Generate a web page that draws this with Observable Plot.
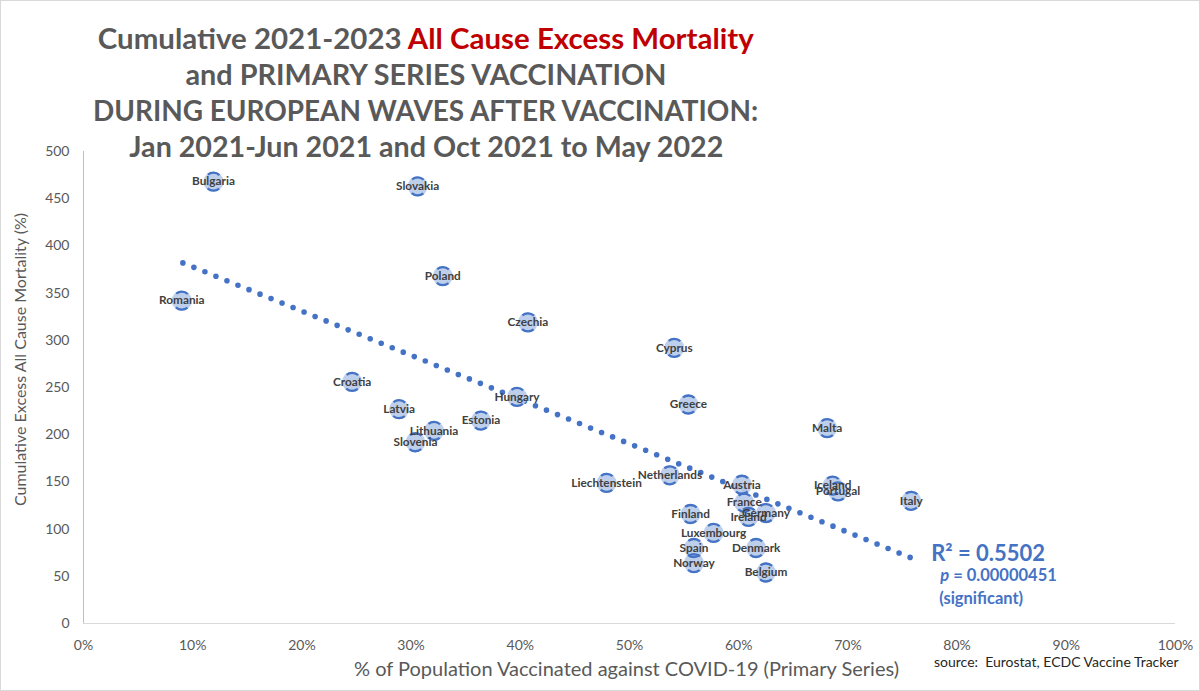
<!DOCTYPE html>
<html>
<head>
<meta charset="utf-8">
<script src="https://cdn.jsdelivr.net/npm/d3@7"></script>
<script src="https://cdn.jsdelivr.net/npm/@observablehq/plot@0.6"></script>
<style>
  html, body { margin: 0; padding: 0; background: #fff; overflow: hidden; }
  body { width: 1200px; height: 691px; position: relative; font-family: Lato, "Open Sans", sans-serif; }
  #frame { position: absolute; left: 0; top: 0; width: 1200px; height: 691px; box-sizing: border-box; border: 1px solid #d9d9d9; pointer-events: none; }
  #title { position: absolute; left: 0; top: 20px; width: 852px; text-align: center; color: #595959; font-weight: 700; font-size: 28px; line-height: 36px; z-index: 2; }
  #title .ln { display: block; }
  #title .ln span.w { display: inline-block; white-space: nowrap; transform-origin: center; }
  #title .red { color: #c00000; }
  #chart { position: absolute; left: 0; top: 0; }
</style>
</head>
<body>
<div id="chart"></div>
<div id="title">
  <div class="ln"><span class="w">Cumulative 2021-2023 <span class="red">All Cause Excess Mortality</span></span></div>
  <div class="ln"><span class="w">and PRIMARY SERIES VACCINATION</span></div>
  <div class="ln"><span class="w">DURING EUROPEAN WAVES AFTER VACCINATION:</span></div>
  <div class="ln"><span class="w">Jan 2021-Jun 2021 and Oct 2021 to May 2022</span></div>
</div>
<div id="frame"></div>
<script>
// ---- data ----
const countries = ["Bulgaria","Slovakia","Romania","Poland","Czechia","Cyprus","Croatia","Hungary","Greece","Latvia","Estonia","Lithuania","Slovenia","Malta","Liechtenstein","Netherlands","Austria","Iceland","Portugal","Italy","France","Germany","Ireland","Finland","Luxembourg","Spain","Norway","Denmark","Belgium"];
const vaccinatedPct = [11.9,30.6,9.0,32.9,40.7,54.1,24.6,39.7,55.4,28.9,36.4,32.1,30.4,68.1,47.9,53.7,60.3,68.6,69.1,75.8,60.5,62.5,60.9,55.6,57.7,55.9,55.9,61.6,62.5];
const excessMortality = [468,463,342,368,319,292,256,240,232,227,215,204,192,207,149,157,147,146,140,130,128,117,113,116,96,80,64,80,54];
const trendX = [9.1, 75.7];
const trendY = [382, 70];
const xTicks = [0,10,20,30,40,50,60,70,80,90,100];
const yTicks = [0,50,100,150,200,250,300,350,400,450,500];
const r2Label = "R² = 0.5502";
const pLabel = "= 0.00000451";
const sigLabel = "(significant)";
const xTitle = "% of Population Vaccinated against COVID-19 (Primary Series)";
const yTitle = "Cumulative Excess All Cause Mortality (%)";
const sourceLabel = "source:  Eurostat, ECDC Vaccine Tracker";

const points = countries.map((c, i) => ({country: c, x: vaccinatedPct[i], y: excessMortality[i]}));
const trend = trendX.map((x, i) => ({x, y: trendY[i]}));
const trendEnd = [trend[trend.length - 1]];

const blue = "#4472c4";
const gray = "#595959";

const chart = Plot.plot({
  width: 1200,
  height: 691,
  marginLeft: 83,
  marginRight: 25,
  marginTop: 151,
  marginBottom: 68,
  style: {fontFamily: "Lato, 'Open Sans', sans-serif", background: "transparent", overflow: "visible"},
  x: {domain: [0, 100]},
  y: {domain: [0, 500]},
  marks: [
    Plot.ruleY([0], {stroke: "#d9d9d9", strokeWidth: 1.2}),
    Plot.ruleX([0], {stroke: "#bfbfbf", strokeWidth: 1}),
    Plot.axisX({ticks: xTicks, tickSize: 0, tickPadding: 17, tickFormat: d => d + "%", fontSize: 14, color: gray, label: null}),
    Plot.axisY({ticks: yTicks, tickSize: 0, tickPadding: 14, fontSize: 14, color: gray, label: null}),
    Plot.text([yTitle], {frameAnchor: "left", textAnchor: "middle", dx: -63, dy: -28, rotate: -90, fontSize: 16, fill: gray, text: d => d}),
    Plot.text([xTitle], {frameAnchor: "bottom", textAnchor: "middle", dx: -3, dy: 52, fontSize: 20, fill: gray, text: d => d}),
    Plot.text([sourceLabel], {frameAnchor: "bottom-right", dx: 3, dy: 43, fontSize: 14, fill: "#262626", textAnchor: "end", text: d => d}),
    Plot.line(trend, {x: "x", y: "y", stroke: blue, strokeWidth: 5.6, strokeDasharray: "0 11.888", strokeLinecap: "round"}),
    Plot.dot(points, {x: "x", y: "y", r: 10, fill: "#b8cbea", fillOpacity: 0.92, stroke: "none"}),
    Plot.dot(points, {x: "x", y: "y", r: 9, fill: "none", stroke: blue, strokeWidth: 2.3, strokeDasharray: "12.6 15.67", strokeDashoffset: 20.4}),
    Plot.text(points, {x: "x", y: "y", text: "country", fontSize: 11.8, fontWeight: 700, fill: "#404040"}),
    Plot.text(trendEnd, {x: "x", y: "y", text: () => r2Label, dx: 21, dy: -3, textAnchor: "start", fontSize: 22, fontWeight: 700, fill: blue}),
    Plot.text(trendEnd, {x: "x", y: "y", text: () => "p", dx: 30, dy: 18, textAnchor: "start", fontSize: 16.5, fontWeight: 700, fontStyle: "italic", fill: blue}),
    Plot.text(trendEnd, {x: "x", y: "y", text: () => pLabel, dx: 43, dy: 18, textAnchor: "start", fontSize: 16.5, fontWeight: 700, fill: blue}),
    Plot.text(trendEnd, {x: "x", y: "y", text: () => sigLabel, dx: 29, dy: 41, textAnchor: "start", fontSize: 16.5, fontWeight: 700, fill: blue})
  ]
});
document.getElementById("chart").appendChild(chart);

// fit title lines to the widths seen in the reference
const targetWidths = [656, 481, 665, 594];
document.querySelectorAll("#title .ln span.w").forEach((el, i) => {
  const w = el.getBoundingClientRect().width;
  if (w > 0) el.style.transform = `scaleX(${targetWidths[i] / w})`;
});
</script>
</body>
</html>
